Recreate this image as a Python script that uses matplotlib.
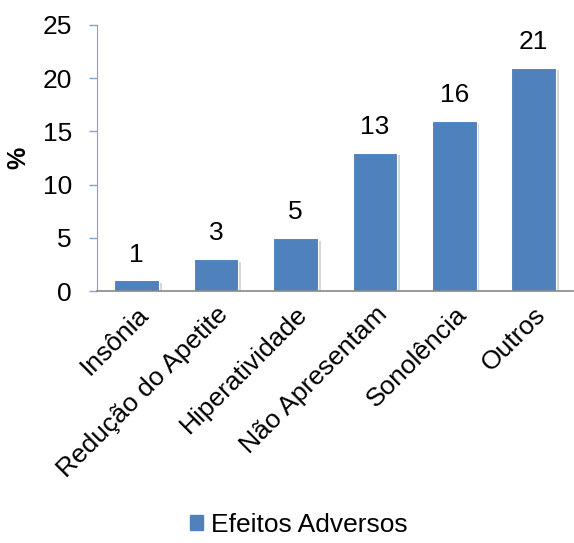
import matplotlib.pyplot as plt
import matplotlib.patheffects as pe
from matplotlib.patches import Patch

plt.rcParams['font.family'] = ['Liberation Sans', 'DejaVu Sans']

categorias = ["Insônia", "Redução do Apetite", "Hiperatividade",
              "Não Apresentam", "Sonolência", "Outros"]
valores = [1, 3, 5, 13, 16, 21]
serie = "Efeitos Adversos"

cor = "#4F81BD"

fig = plt.figure(figsize=(5.74, 5.43), dpi=100)
ax = fig.add_axes([0.169, 0.464, 0.83, 0.49])

x = list(range(len(categorias)))
barras = ax.bar(x, valores, width=0.56, color=cor,
                edgecolor="white", linewidth=0.8)
for b in barras:
    b.set_path_effects([pe.SimplePatchShadow(offset=(2, -2), shadow_rgbFace="#999999", alpha=0.4),
                        pe.Normal()])

for xi, v in zip(x, valores):
    ax.text(xi, v + 1.3, str(v), ha="center", va="bottom", fontsize=19)

ax.set_xlim(-0.5, len(categorias) - 0.5)
ax.set_ylim(0, 25)
ax.set_yticks([0, 5, 10, 15, 20, 25])
ax.tick_params(axis="y", labelsize=19, color="#7FA3D3", length=6, width=1, pad=12)
ax.set_xticks(x)
ax.set_xticklabels(categorias, rotation=45, ha="right", rotation_mode="anchor", fontsize=19)
ax.tick_params(axis="x", length=0, pad=8)

for s in ["top", "right"]:
    ax.spines[s].set_visible(False)
ax.spines["left"].set_color("#7FA3D3")
ax.spines["bottom"].set_color("#888888")
ax.spines["bottom"].set_linewidth(1.2)

ax.set_ylabel("%", fontsize=18, fontweight="bold")
ax.yaxis.set_label_coords(-0.14, 0.5)

fig.legend(handles=[Patch(color=cor)], labels=[serie], loc="center", bbox_to_anchor=(0.52, 0.033),
           frameon=False, fontsize=19, handlelength=0.5, handleheight=0.5, handletextpad=0.3)

fig.savefig("out.png", dpi=100)
